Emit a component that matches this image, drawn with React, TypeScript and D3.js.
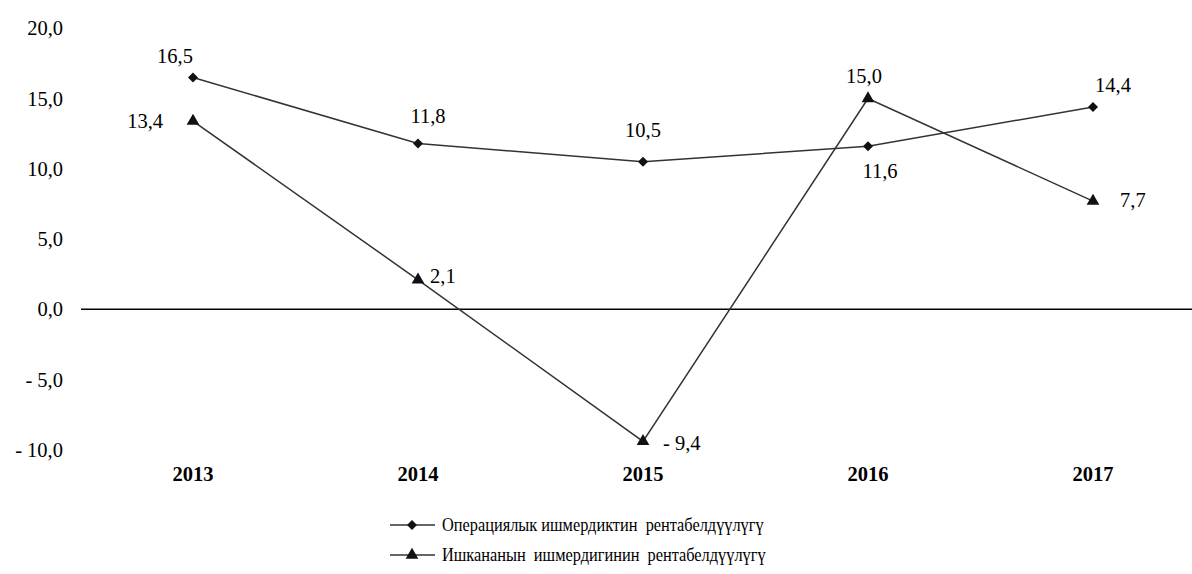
import * as d3 from "d3";

const years = ["2013", "2014", "2015", "2016", "2017"];
const operational = [16.5, 11.8, 10.5, 11.6, 14.4];
const business = [13.4, 2.1, -9.4, 15.0, 7.7];
const yTicks = [20, 15, 10, 5, 0, -5, -10];
const seriesNames = [
  "Операциялык ишмердиктин  рентабелдүүлүгү",
  "Ишкананын  ишмердигинин  рентабелдүүлүгү",
];
// where each data label sits relative to its point
const opLabelPos = ["aboveLeft", "aboveRight", "above", "belowRight", "farAboveRight"];
const busLabelPos = ["left", "right", "farRight", "aboveLeft2", "farRight2"];

const W = 1192;
const H = 574;
const font = "Liberation Serif, Times New Roman, DejaVu Serif, serif";

const fmt = (v: number) => {
  const s = d3.format(".1f")(Math.abs(v)).replace(".", ",");
  return v < 0 ? `- ${s}` : s;
};

const offsets: Record<string, { dx: number; dy: number; anchor: string }> = {
  above: { dx: 0, dy: -32, anchor: "middle" },
  aboveLeft: { dx: -18, dy: -21, anchor: "middle" },
  aboveLeft2: { dx: -4, dy: -23, anchor: "middle" },
  aboveRight: { dx: 10, dy: -28, anchor: "middle" },
  farAboveRight: { dx: 20, dy: -22, anchor: "middle" },
  belowRight: { dx: 12, dy: 25, anchor: "middle" },
  left: { dx: -30, dy: 0, anchor: "end" },
  right: { dx: 12, dy: -4, anchor: "start" },
  farRight: { dx: 20, dy: 2, anchor: "start" },
  farRight2: { dx: 27, dy: -1, anchor: "start" },
};

function App() {
  const x = d3.scaleBand<string>().domain(years).range([80.5, 1205.5]);
  const cx = (d: string) => (x(d) ?? 0) + x.bandwidth() / 2;
  const y = d3.scaleLinear().domain([-10, 20]).range([449.8, 28.3]);

  const line = d3
    .line<number>()
    .x((_, i) => cx(years[i]))
    .y((d) => y(d));

  const diamond = d3.symbol().type(d3.symbolSquare).size(50)();
  const triangle = d3.symbol().type(d3.symbolTriangle).size(70)();

  const series = [
    { values: operational, marker: diamond, rotate: 45, labels: opLabelPos },
    { values: business, marker: triangle, rotate: 0, labels: busLabelPos },
  ];

  const legendX = 390;
  const legendY = [525, 555];
  const textStyle = { fontFamily: font, fontSize: 20.5 };

  return (
    <svg width={W} height={H} style={{ display: "block", position: "absolute", left: 0, top: 0 }}>
      <rect width={W} height={H} fill="#ffffff" />

      {/* y tick labels */}
      {yTicks.map((t) => (
        <text
          key={t}
          x={63}
          y={y(t)}
          textAnchor="end"
          dominantBaseline="central"
          style={textStyle}
          fill="#000"
        >
          {fmt(t)}
        </text>
      ))}

      {/* zero line */}
      <line x1={81} x2={W} y1={y(0)} y2={y(0)} stroke="#000" strokeWidth={1.6} />

      {/* x category labels */}
      {years.map((d) => (
        <text
          key={d}
          x={cx(d)}
          y={474}
          textAnchor="middle"
          dominantBaseline="central"
          style={{ ...textStyle, fontWeight: "bold" }}
          fill="#000"
        >
          {d}
        </text>
      ))}

      {series.map((s, si) => (
        <g key={si}>
          <path d={line(s.values) ?? ""} fill="none" stroke="#333" strokeWidth={1.5} />
          {s.values.map((v, i) => (
            <path
              key={i}
              d={s.marker ?? ""}
              transform={`translate(${cx(years[i])},${y(v)}) rotate(${s.rotate})`}
              fill="#111"
            />
          ))}
          {s.values.map((v, i) => {
            const o = offsets[s.labels[i]];
            return (
              <text
                key={i}
                x={cx(years[i]) + o.dx}
                y={y(v) + o.dy}
                textAnchor={o.anchor}
                dominantBaseline="central"
                style={textStyle}
                fill="#000"
              >
                {fmt(v)}
              </text>
            );
          })}
        </g>
      ))}

      {/* legend */}
      {series.map((s, si) => (
        <g key={si} transform={`translate(${legendX},${legendY[si]})`}>
          <line x1={0} x2={45} y1={0} y2={0} stroke="#333" strokeWidth={1.5} />
          <path d={s.marker ?? ""} transform={`translate(22,0) rotate(${s.rotate})`} fill="#111" />
          <text
            transform="translate(52,0) scale(0.86,1)"
            dominantBaseline="central"
            style={{ fontFamily: font, fontSize: 19, whiteSpace: "pre" }}
            fill="#000"
          >
            {seriesNames[si]}
          </text>
        </g>
      ))}
    </svg>
  );
}

export default App;
